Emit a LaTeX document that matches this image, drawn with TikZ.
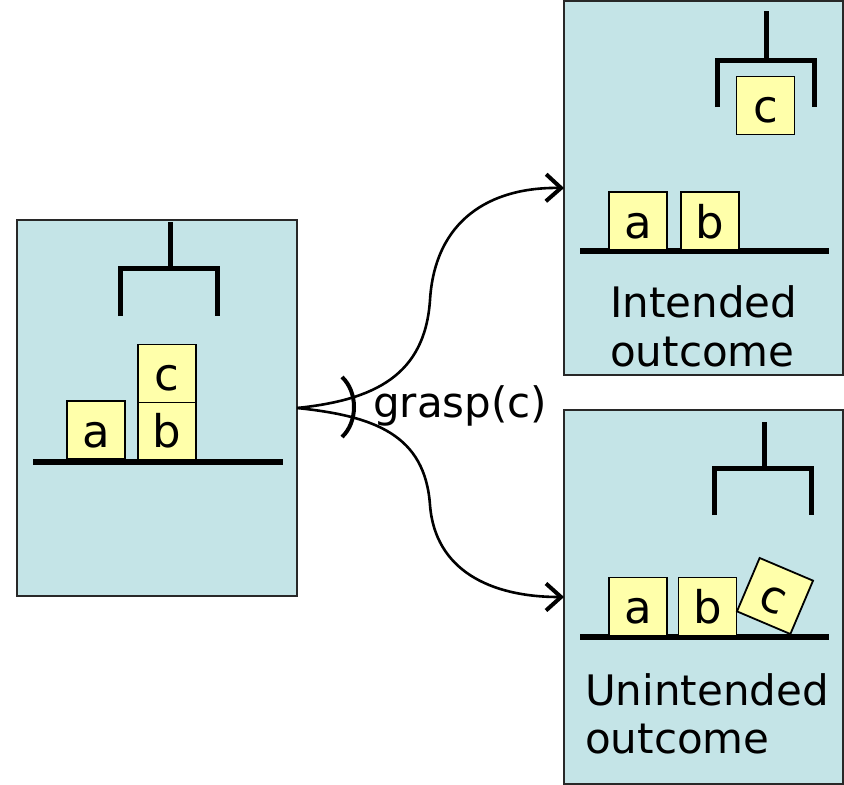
\documentclass[tikz,border=0pt]{standalone}
\usepackage{fontspec}
\setmainfont{DejaVu Sans}
\usetikzlibrary{arrows.meta}
\definecolor{panelfill}{RGB}{196,228,231}
\definecolor{blockfill}{RGB}{255,255,170}
\definecolor{edge}{RGB}{40,40,40}
\tikzset{
  panel/.style={draw=edge, line width=1.5pt, fill=panelfill, outer sep=0pt, inner sep=0pt},
  blk/.style={draw=black, line width=1.8pt, fill=blockfill, minimum size=58pt, inner sep=0pt,
    text height=34pt, text depth=0pt, font=\fontsize{45}{50}\selectfont},
  grip/.style={line width=5pt},
  tabletop/.style={line width=5.5pt},
  lbl/.style={inner sep=0pt, font=\fontsize{42}{49}\selectfont},
  arr/.style={line width=2.6pt, -{Straight Barb[length=15pt,width=27pt,line width=4pt]}},
}
\begin{document}
\begin{tikzpicture}[x=1pt,y=-1pt]
\useasboundingbox (0,0) rectangle (844,785);

% three scenes
\node[panel, minimum width=280pt, minimum height=376pt] (start) at (157,408) {};
\node[panel, minimum width=279pt, minimum height=374pt] (good) at (703.5,188) {};
\node[panel, minimum width=279pt, minimum height=374pt] (bad) at (703.5,597) {};

% initial state: c stacked on b
\draw[grip] (170,222) -- (170,268);
\draw[grip] (120,316) -- (120,268) -- (217,268) -- (217,316);
\draw[tabletop] (33,462) -- (283,462);
\node[blk] (sa) at (96,430) {a};
\node[blk] (sb) at (167,430.5) {b};
\node[blk] (sc) at (167,373.5) {c};

% intended result: c held in the gripper
\draw[grip] (766,11) -- (766,60);
\draw[grip] (717,107) -- (717,60) -- (814,60) -- (814,107);
\draw[tabletop] (580,251) -- (829,251);
\node[blk] (gc) at (765.5,105.5) {c};
\node[blk] (ga) at (638,221) {a};
\node[blk] (gb) at (710,221) {b};
\node[lbl, anchor=base west] (gl1) at (610,317) {Intended};
\node[lbl, anchor=base west] (gl2) at (610,366) {outcome};

% unintended result: c dropped beside b
\draw[grip] (764,422) -- (764,468);
\draw[grip] (714,515) -- (714,468) -- (811,468) -- (811,515);
\draw[tabletop] (580,637) -- (829,637);
\node[blk] (ba) at (638,606.5) {a};
\node[blk] (bb) at (707.5,606.5) {b};
\node[blk, rotate=-23] (bc) at (775,596) {c};
\node[lbl, anchor=base west] (bl1) at (585,705) {Unintended};
\node[lbl, anchor=base west] (bl2) at (585,753) {outcome};

% nondeterministic action
\draw[arr] (start.east) .. controls (375,400) and (425,375) .. (430,300)
  .. controls (435,220) and (490,187) .. (good.west);
\draw[arr] (start.east) .. controls (375,416) and (425,435) .. (430,505)
  .. controls (435,570) and (490,597) .. (bad.west);
\draw[line width=4pt] (342,377) .. controls (358,392) and (358,422) .. (342,437);
\node[lbl, anchor=base west] (act) at (373,417) {grasp(c)};
\end{tikzpicture}
\end{document}
